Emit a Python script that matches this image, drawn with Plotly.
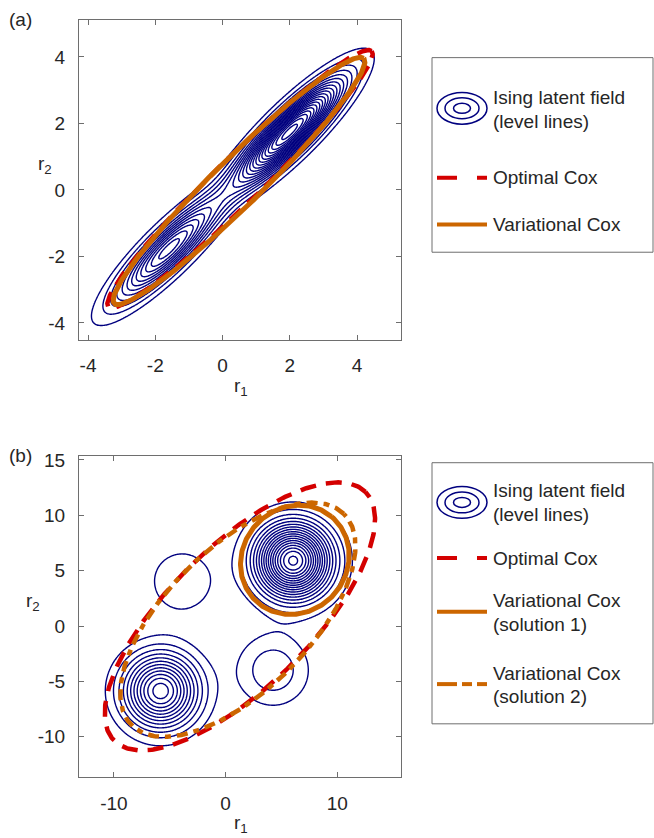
import numpy as np
import plotly.graph_objects as go

W, H = 654, 838
NAVY = "#00007F"
RED = "#D40000"
ORANGE = "#CC6600"
AXC = "#6E6E6E"
TXT = "#262626"
FONT = "Liberation Sans, Arial, Helvetica, sans-serif"
FS = 19

# ---------------- data: panel (a) ----------------
# Ising latent field (a): mixture of two elongated Gaussian bumps
a_mode_x = [-1.6, 2.0]
a_mode_y = [-1.78, 1.75]
a_mode_height = [12.5, 20.5]
a_sigma_par = [1.4, 1.4]
a_sigma_perp = [0.36, 0.36]
a_mode_angle = [45.0, 45.0]
a_levels = [1, 20, 1]          # start, end, step
a_xrange = [-4.268, 5.308]
a_yrange = [-4.5, 5.113]
a_xticks = [-4, -2, 0, 2, 4]
a_xticklabels = ["-4", "-2", "0", "2", "4"]
a_yticks = [-4, -2, 0, 2, 4]
a_yticklabels = ["-4", "-2", "0", "2", "4"]
# ellipses: name, cx, cy, semi-major, semi-minor, angle
a_ell_names = ["Optimal Cox", "Variational Cox"]
a_ell_cx = [0.52, 0.49]
a_ell_cy = [0.33, 0.27]
a_ell_a = [5.49, 5.23]
a_ell_b = [0.69, 0.71]
a_ell_ang = [44.5, 44.8]

# ---------------- data: panel (b) ----------------
b_mode_x = [6.05, -5.82, -3.9, 4.25]
b_mode_y = [5.9, -5.87, 4.05, -4.0]
b_mode_height = [18.3, 12.6, 1.87, 2.8]
b_sigma = [2.2, 2.2, 2.2, 2.2]
b_levels = [1, 19, 1]
b_xrange = [-13.13, 15.71]
b_yrange = [-13.68, 15.38]
b_xticks = [-10, 0, 10]
b_xticklabels = ["-10", "0", "10"]
b_yticks = [-10, -5, 0, 5, 10, 15]
b_yticklabels = ["-10", "-5", "0", "5", "10", "15"]
b_ell_names = ["Optimal Cox", "Variational Cox (solution 1)", "Variational Cox (solution 2)"]
b_ell_cx = [1.28, 6.2, 1.1]
b_ell_cy = [0.87, 5.98, 0.57]
b_ell_a = [15.9, 5.1, 13.47]
b_ell_b = [6.35, 4.7, 6.43]
b_ell_ang = [45.0, 50.0, 45.2]

# ---------------- helpers ----------------
def px_x(p):
    return p / W

def px_y(p):
    return 1 - p / H

def ellipse(cx, cy, a, b, ang, n=400):
    t = np.linspace(0, 2 * np.pi, n)
    th = np.deg2rad(ang)
    x = cx + a * np.cos(t) * np.cos(th) - b * np.sin(t) * np.sin(th)
    y = cy + a * np.cos(t) * np.sin(th) + b * np.sin(t) * np.cos(th)
    return x, y

def field_a():
    gx = np.linspace(a_xrange[0], a_xrange[1], 320)
    gy = np.linspace(a_yrange[0], a_yrange[1], 320)
    X, Y = np.meshgrid(gx, gy)
    Z = np.zeros_like(X)
    for mx, my, h, sp, sq, ang in zip(a_mode_x, a_mode_y, a_mode_height,
                                      a_sigma_par, a_sigma_perp, a_mode_angle):
        th = np.deg2rad(ang)
        dx, dy = X - mx, Y - my
        u = dx * np.cos(th) + dy * np.sin(th)
        v = -dx * np.sin(th) + dy * np.cos(th)
        Z += h * np.exp(-0.5 * ((u / sp) ** 2 + (v / sq) ** 2))
    return gx, gy, Z

def field_b():
    gx = np.linspace(b_xrange[0], b_xrange[1], 320)
    gy = np.linspace(b_yrange[0], b_yrange[1], 320)
    X, Y = np.meshgrid(gx, gy)
    Z = np.zeros_like(X)
    for mx, my, h, s in zip(b_mode_x, b_mode_y, b_mode_height, b_sigma):
        Z += h * np.exp(-0.5 * (((X - mx) / s) ** 2 + ((Y - my) / s) ** 2))
    return gx, gy, Z

fig = go.Figure()

# panel (a)
gx, gy, Z = field_a()
fig.add_trace(go.Contour(x=gx, y=gy, z=Z, xaxis="x", yaxis="y",
                         contours=dict(start=a_levels[0], end=a_levels[1], size=a_levels[2],
                                       coloring="lines", showlabels=False),
                         colorscale=[[0, NAVY], [1, NAVY]], showscale=False,
                         line=dict(width=1.4, smoothing=1), hoverinfo="skip"))
a_styles = [dict(color=RED, width=4.5, dash="15px,9px"),
            dict(color=ORANGE, width=5)]
for i in range(len(a_ell_names)):
    ex, ey = ellipse(a_ell_cx[i], a_ell_cy[i], a_ell_a[i], a_ell_b[i], a_ell_ang[i])
    fig.add_trace(go.Scatter(x=ex, y=ey, mode="lines", line=a_styles[i],
                             name=a_ell_names[i], xaxis="x", yaxis="y", hoverinfo="skip"))

# panel (b)
gx, gy, Z = field_b()
fig.add_trace(go.Contour(x=gx, y=gy, z=Z, xaxis="x2", yaxis="y2",
                         contours=dict(start=b_levels[0], end=b_levels[1], size=b_levels[2],
                                       coloring="lines", showlabels=False),
                         colorscale=[[0, NAVY], [1, NAVY]], showscale=False,
                         line=dict(width=1.4, smoothing=1), hoverinfo="skip"))
b_styles = [dict(color=RED, width=4.5, dash="16px,10px"),
            dict(color=ORANGE, width=5),
            dict(color=ORANGE, width=4.5, dash="11px,6px,6px,6px")]
for i in range(len(b_ell_names)):
    ex, ey = ellipse(b_ell_cx[i], b_ell_cy[i], b_ell_a[i], b_ell_b[i], b_ell_ang[i])
    fig.add_trace(go.Scatter(x=ex, y=ey, mode="lines", line=b_styles[i],
                             name=b_ell_names[i], xaxis="x2", yaxis="y2", hoverinfo="skip"))

axis_common = dict(showline=True, linecolor=AXC, linewidth=1, mirror="ticks",
                   ticks="inside", ticklen=5, tickcolor=AXC, tickwidth=1,
                   showgrid=False, zeroline=False, tickmode="array",
                   tickfont=dict(family=FONT, size=FS, color=TXT),
                   ticklabelstandoff=9)

fig.update_layout(
    width=W, height=H, margin=dict(l=0, r=0, t=0, b=0),
    paper_bgcolor="white", plot_bgcolor="white", showlegend=False,
    xaxis=dict(domain=[px_x(79), px_x(401)], range=a_xrange, anchor="y",
               tickvals=a_xticks, ticktext=a_xticklabels, **axis_common),
    yaxis=dict(domain=[px_y(336), px_y(14)], range=a_yrange, anchor="x",
               tickvals=a_yticks, ticktext=a_yticklabels, **axis_common),
    xaxis2=dict(domain=[px_x(79), px_x(401)], range=b_xrange, anchor="y2",
                tickvals=b_xticks, ticktext=b_xticklabels, **axis_common),
    yaxis2=dict(domain=[px_y(777), px_y(453)], range=b_yrange, anchor="x2",
                tickvals=b_yticks, ticktext=b_yticklabels, **axis_common),
)

ann = []
def text(x, y, s, xa="left", size=FS):
    ann.append(dict(x=px_x(x), y=px_y(y), xref="paper", yref="paper", text=s,
                    showarrow=False, xanchor=xa, yanchor="middle",
                    font=dict(family=FONT, size=size, color=TXT)))

# panel labels and axis labels
text(7, 14, "(a)")
text(7, 453, "(b)")
text(241, 384, "r<sub>1</sub>", xa="center")
text(45, 160, "r<sub>2</sub>", xa="center")
text(241, 824, "r<sub>1</sub>", xa="center")
text(33, 600, "r<sub>2</sub>", xa="center")

shapes = []
def rect(x0, y0, x1, y1):
    shapes.append(dict(type="rect", xref="paper", yref="paper",
                       x0=px_x(x0), x1=px_x(x1), y0=px_y(y1), y1=px_y(y0),
                       line=dict(color=AXC, width=1), fillcolor="white", layer="below"))

def seg(x0, x1, y, color, width):
    shapes.append(dict(type="line", xref="paper", yref="paper",
                       x0=px_x(x0), x1=px_x(x1), y0=px_y(y), y1=px_y(y),
                       line=dict(color=color, width=width)))

def icon(cx, cy):
    for rx, ry in [(25, 16), (17, 10.5), (8.5, 5)]:
        shapes.append(dict(type="circle", xref="paper", yref="paper",
                           x0=px_x(cx - rx), x1=px_x(cx + rx),
                           y0=px_y(cy + ry), y1=px_y(cy - ry),
                           line=dict(color=NAVY, width=1.5)))

# legend (a)
rect(432, 52, 653, 248)
icon(462, 103)
text(491, 92, "Ising latent field")
text(491, 116, "(level lines)")
seg(437, 457, 173, RED, 4)
seg(477, 487, 173, RED, 4)
text(491, 173, "Optimal Cox")
seg(437, 487, 220, ORANGE, 4)
text(491, 220, "Variational Cox")

# legend (b)
rect(432, 460, 653, 723)
icon(462, 500)
text(491, 488, "Ising latent field")
text(491, 512, "(level lines)")
seg(437, 457, 556, RED, 4)
seg(477, 487, 556, RED, 4)
text(491, 556, "Optimal Cox")
seg(437, 487, 610, ORANGE, 4)
text(491, 599, "Variational Cox")
text(491, 623, "(solution 1)")
seg(437, 457, 683, ORANGE, 4)
seg(462, 472, 683, ORANGE, 4)
seg(477, 487, 683, ORANGE, 4)
text(491, 672, "Variational Cox")
text(491, 695, "(solution 2)")

fig.update_layout(annotations=ann, shapes=shapes)
fig.write_html("out.html")
